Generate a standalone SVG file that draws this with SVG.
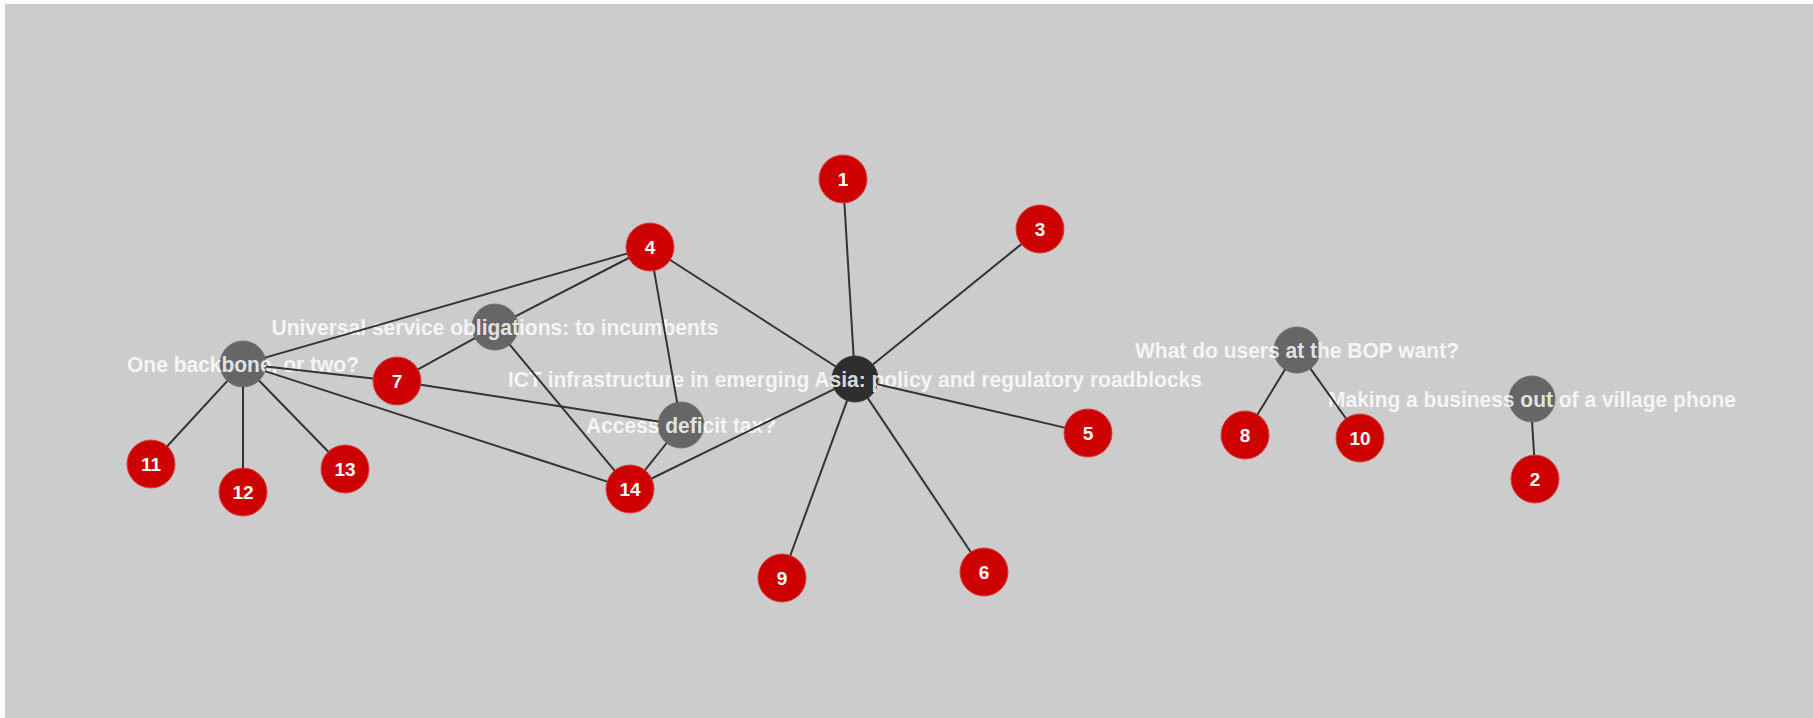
<svg xmlns="http://www.w3.org/2000/svg" width="1813" height="718" viewBox="0 0 1813 718">
<style>
.bg{fill:#cccccc}
.red{fill:#cc0000;stroke:#d84040;stroke-width:1}
.topic{fill:#666666;stroke:#707070;stroke-width:1}
.hub{fill:#2e2e2e;stroke:#3a3a3a;stroke-width:1}
.num{font-family:"Liberation Sans",Arial,sans-serif;font-weight:bold;font-size:19px;fill:#ffffff;text-anchor:middle}
.lbl{font-family:"Liberation Sans",Arial,sans-serif;font-weight:bold;font-size:22px;fill:#ffffff;fill-opacity:0.82;text-anchor:middle}
#edges line{stroke:#333333;stroke-width:2}
</style>
<rect width="1813" height="718" fill="#ffffff"/>
<rect class="bg" x="5" y="4" width="1808" height="714"/>

<g id="node-1"><circle class="red" cx="843" cy="179" r="24"/><text class="num" x="843" y="186">1</text></g>
<g id="node-2"><circle class="red" cx="1535" cy="479" r="24"/><text class="num" x="1535" y="486">2</text></g>
<g id="node-3"><circle class="red" cx="1040" cy="229" r="24"/><text class="num" x="1040" y="236">3</text></g>
<g id="node-4"><circle class="red" cx="650" cy="247" r="24"/><text class="num" x="650" y="254">4</text></g>
<g id="node-5"><circle class="red" cx="1088" cy="433" r="24"/><text class="num" x="1088" y="440">5</text></g>
<g id="node-6"><circle class="red" cx="984" cy="572" r="24"/><text class="num" x="984" y="579">6</text></g>
<g id="node-7"><circle class="red" cx="397" cy="381" r="24"/><text class="num" x="397" y="388">7</text></g>
<g id="node-8"><circle class="red" cx="1245" cy="435" r="24"/><text class="num" x="1245" y="442">8</text></g>
<g id="node-9"><circle class="red" cx="782" cy="578" r="24"/><text class="num" x="782" y="585">9</text></g>
<g id="node-10"><circle class="red" cx="1360" cy="438" r="24"/><text class="num" x="1360" y="445">10</text></g>
<g id="node-11"><circle class="red" cx="151" cy="464" r="24"/><text class="num" x="151" y="471">11</text></g>
<g id="node-12"><circle class="red" cx="243" cy="492" r="24"/><text class="num" x="243" y="499">12</text></g>
<g id="node-13"><circle class="red" cx="345" cy="469" r="24"/><text class="num" x="345" y="476">13</text></g>
<g id="node-14"><circle class="red" cx="630" cy="489" r="24"/><text class="num" x="630" y="496">14</text></g>

<g id="node-backbone"><circle class="topic" cx="243" cy="364" r="23"/><text class="lbl" x="243" y="371.5" textLength="232" lengthAdjust="spacingAndGlyphs">One backbone, or two?</text></g>
<g id="node-uso"><circle class="topic" cx="495" cy="327" r="23"/><text class="lbl" x="495" y="334.5" textLength="447" lengthAdjust="spacingAndGlyphs">Universal service obligations: to incumbents</text></g>
<g id="node-access"><circle class="topic" cx="681" cy="425" r="23"/><text class="lbl" x="681" y="432.5" textLength="190" lengthAdjust="spacingAndGlyphs">Access deficit tax?</text></g>
<g id="node-ict"><circle class="hub" cx="855" cy="379" r="23"/><text class="lbl" x="855" y="386.5" textLength="694" lengthAdjust="spacingAndGlyphs">ICT infrastructure in emerging Asia: policy and regulatory roadblocks</text></g>
<g id="node-bop"><circle class="topic" cx="1297" cy="350" r="23"/><text class="lbl" x="1297" y="357.5" textLength="324" lengthAdjust="spacingAndGlyphs">What do users at the BOP want?</text></g>
<g id="node-village"><circle class="topic" cx="1532" cy="399" r="23"/><text class="lbl" x="1532" y="406.5" textLength="408" lengthAdjust="spacingAndGlyphs">Making a business out of a village phone</text></g>

<g id="edges">
<line x1="265.1" y1="357.6" x2="626.9" y2="253.6"/>
<line x1="265.9" y1="366.5" x2="373.1" y2="378.4"/>
<line x1="264.9" y1="371.1" x2="607.2" y2="481.6"/>
<line x1="227.4" y1="380.9" x2="167.2" y2="446.3"/>
<line x1="243" y1="387" x2="243" y2="468"/>
<line x1="259.0" y1="380.5" x2="328.3" y2="451.8"/>
<line x1="515.4" y1="316.4" x2="628.7" y2="258.0"/>
<line x1="474.9" y1="338.1" x2="418.0" y2="369.4"/>
<line x1="509.7" y1="344.7" x2="614.6" y2="470.6"/>
<line x1="420.7" y1="384.7" x2="658.3" y2="421.5"/>
<line x1="654.1" y1="270.6" x2="677.1" y2="402.3"/>
<line x1="670.2" y1="260.0" x2="835.7" y2="366.5"/>
<line x1="666.7" y1="443.0" x2="645.0" y2="470.2"/>
<line x1="651.6" y1="478.5" x2="834.3" y2="389.1"/>
<line x1="853.6" y1="356.0" x2="844.4" y2="203.0"/>
<line x1="872.9" y1="364.5" x2="1021.4" y2="244.1"/>
<line x1="877.4" y1="384.2" x2="1064.6" y2="427.6"/>
<line x1="867.8" y1="398.1" x2="970.7" y2="552.0"/>
<line x1="847.1" y1="400.6" x2="790.3" y2="555.5"/>
<line x1="1285.0" y1="369.6" x2="1257.5" y2="414.5"/>
<line x1="1310.4" y1="368.7" x2="1346.0" y2="418.5"/>
<line x1="1532.1" y1="422" x2="1534.1" y2="455"/>
</g>
</svg>
